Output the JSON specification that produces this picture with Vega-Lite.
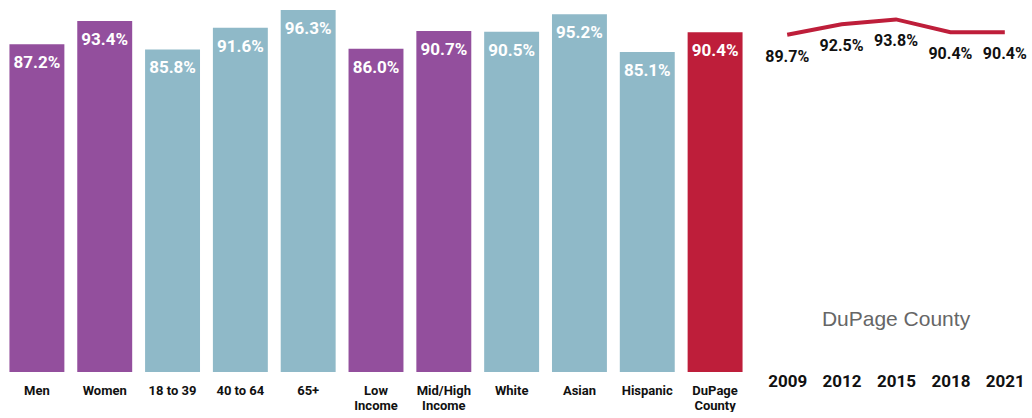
{
  "$schema": "https://vega.github.io/schema/vega-lite/v6.json",
  "padding": {"left": 3, "top": 10, "right": 0, "bottom": 0},
  "background": "white",
  "spacing": 11,
  "config": {
    "view": {"stroke": null},
    "font": "Roboto, Liberation Sans, Arial",
    "axis": {"domain": false, "ticks": false, "grid": false, "title": null, "labelAngle": 0, "labelFont": "Roboto, Liberation Sans, Arial", "labelFontWeight": "bold", "labelColor": "#111111"}
  },
  "hconcat": [
    {
      "width": 746,
      "height": 362,
      "data": {"values": [
        {"category": "Men", "group": "Gender", "value": 0.872},
        {"category": "Women", "group": "Gender", "value": 0.934},
        {"category": "18 to 39", "group": "Age", "value": 0.858},
        {"category": "40 to 64", "group": "Age", "value": 0.916},
        {"category": "65+", "group": "Age", "value": 0.963},
        {"category": "Low Income", "group": "Income", "value": 0.860},
        {"category": "Mid/High Income", "group": "Income", "value": 0.907},
        {"category": "White", "group": "Race", "value": 0.905},
        {"category": "Asian", "group": "Race", "value": 0.952},
        {"category": "Hispanic", "group": "Race", "value": 0.851},
        {"category": "DuPage County", "group": "County", "value": 0.904}
      ]},
      "encoding": {
        "x": {"field": "category", "type": "nominal", "sort": null,
          "scale": {"paddingInner": 0.19, "paddingOuter": 0.095},
          "axis": {"labelFontSize": 13, "labelPadding": 12, "labelLineHeight": 15,
            "labelExpr": "indexof(['Low Income','Mid/High Income','DuPage County'], datum.label) >= 0 ? split(datum.label, ' ') : datum.label"}},
        "y": {"field": "value", "type": "quantitative", "scale": {"domain": [0, 0.963], "nice": false, "zero": true}, "axis": null}
      },
      "layer": [
        {"mark": {"type": "bar"},
         "encoding": {"color": {"field": "group", "type": "nominal", "legend": null,
           "scale": {"domain": ["Gender", "Age", "Income", "Race", "County"], "range": ["#934F9D", "#8FB9C8", "#934F9D", "#8FB9C8", "#BE1E3A"]}}}},
        {"mark": {"type": "text", "color": "white", "fontWeight": "bold", "fontSize": 17, "baseline": "middle", "dy": 19},
         "encoding": {"text": {"field": "value", "type": "quantitative", "format": ".1%"}}}
      ]
    },
    {
      "width": 272,
      "height": 362,
      "data": {"values": [
        {"year": "2009", "value": 0.897},
        {"year": "2012", "value": 0.925},
        {"year": "2015", "value": 0.938},
        {"year": "2018", "value": 0.904},
        {"year": "2021", "value": 0.904}
      ]},
      "encoding": {
        "x": {"field": "year", "type": "ordinal", "scale": {"type": "point", "padding": 0.5},
          "axis": {"labelFontSize": 17, "labelPadding": 1}},
        "y": {"field": "value", "type": "quantitative", "scale": {"domain": [0, 0.963], "nice": false, "zero": true}, "axis": null}
      },
      "layer": [
        {"mark": {"type": "line", "color": "#BE1E3A", "strokeWidth": 4}},
        {"mark": {"type": "text", "color": "#111111", "fontWeight": "bold", "fontSize": 16, "baseline": "middle", "dy": 22},
         "encoding": {"text": {"field": "value", "type": "quantitative", "format": ".1%"}}},
        {"data": {"values": [{"year": "2015", "value": 0.138, "label": "DuPage County"}]},
         "mark": {"type": "text", "color": "#666666", "font": "Liberation Sans, Arial", "fontSize": 21, "baseline": "middle"},
         "encoding": {"text": {"field": "label", "type": "nominal"}}}
      ]
    }
  ]
}
